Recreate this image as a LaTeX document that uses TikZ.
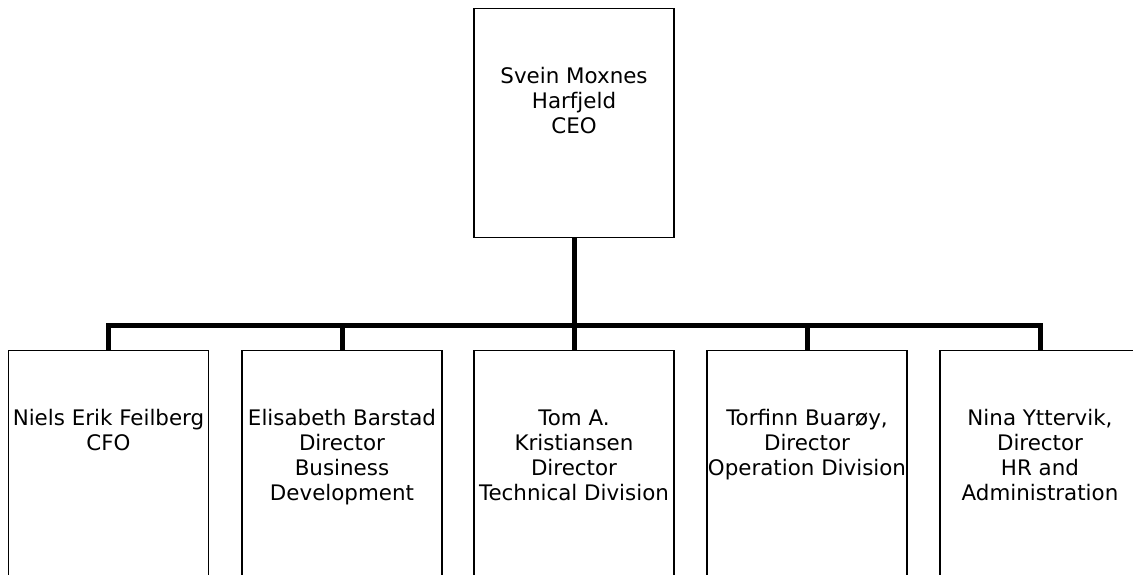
\documentclass[tikz,border=0pt]{standalone}
\usepackage{fontspec}
\setmainfont{DejaVu Sans}
\begin{document}
\begin{tikzpicture}[x=1pt,y=-1pt,
  box/.style={draw=black,line width=1.3pt,minimum width=200pt,minimum height=229pt,inner sep=0pt,anchor=north},
  lowbox/.style={box,minimum height=250pt},
  txt/.style={anchor=base,align=center,inner sep=0pt,font=\fontsize{21.4}{25}\selectfont},
  conn/.style={line width=5pt,line join=miter,line cap=butt}]
\useasboundingbox (0,0) rectangle (1133,574);
\clip (0,0) rectangle (1133,574);
\node[box] (ceo) at (574,8) {};
\node[lowbox] (b1) at (108.5,350) {};
\node[lowbox] (b2) at (342,350) {};
\node[lowbox] (b3) at (574,350) {};
\node[lowbox] (b4) at (807,350) {};
\node[lowbox] (b5) at (1040,350) {};
\node[txt] (tceo) at ([yshift=-125pt]ceo.north) {Svein Moxnes\\Harfjeld\\CEO};
\node[txt] (t1) at ([yshift=-100pt]b1.north) {Niels Erik Feilberg\\CFO};
\node[txt] (t2) at ([yshift=-150pt]b2.north) {Elisabeth Barstad\\Director\\Business\\Development};
\node[txt] (t3) at ([yshift=-150pt]b3.north) {Tom A.\\Kristiansen\\Director\\Technical Division};
\node[txt] (t4) at ([yshift=-125pt]b4.north) {Torfinn Buarøy,\\Director\\Operation Division};
\node[txt] (t5) at ([yshift=-150pt]b5.north) {Nina Yttervik,\\Director\\HR and\\Administration};
\coordinate (bus) at (0,325);
\draw[conn] (b1.north) -- (b1.north |- bus) -- (b5.north |- bus) -- (b5.north);
\draw[conn] (ceo.south) -- (b3.north);
\draw[conn] (b2.north) -- (b2.north |- bus);
\draw[conn] (b4.north) -- (b4.north |- bus);
\end{tikzpicture}
\end{document}
